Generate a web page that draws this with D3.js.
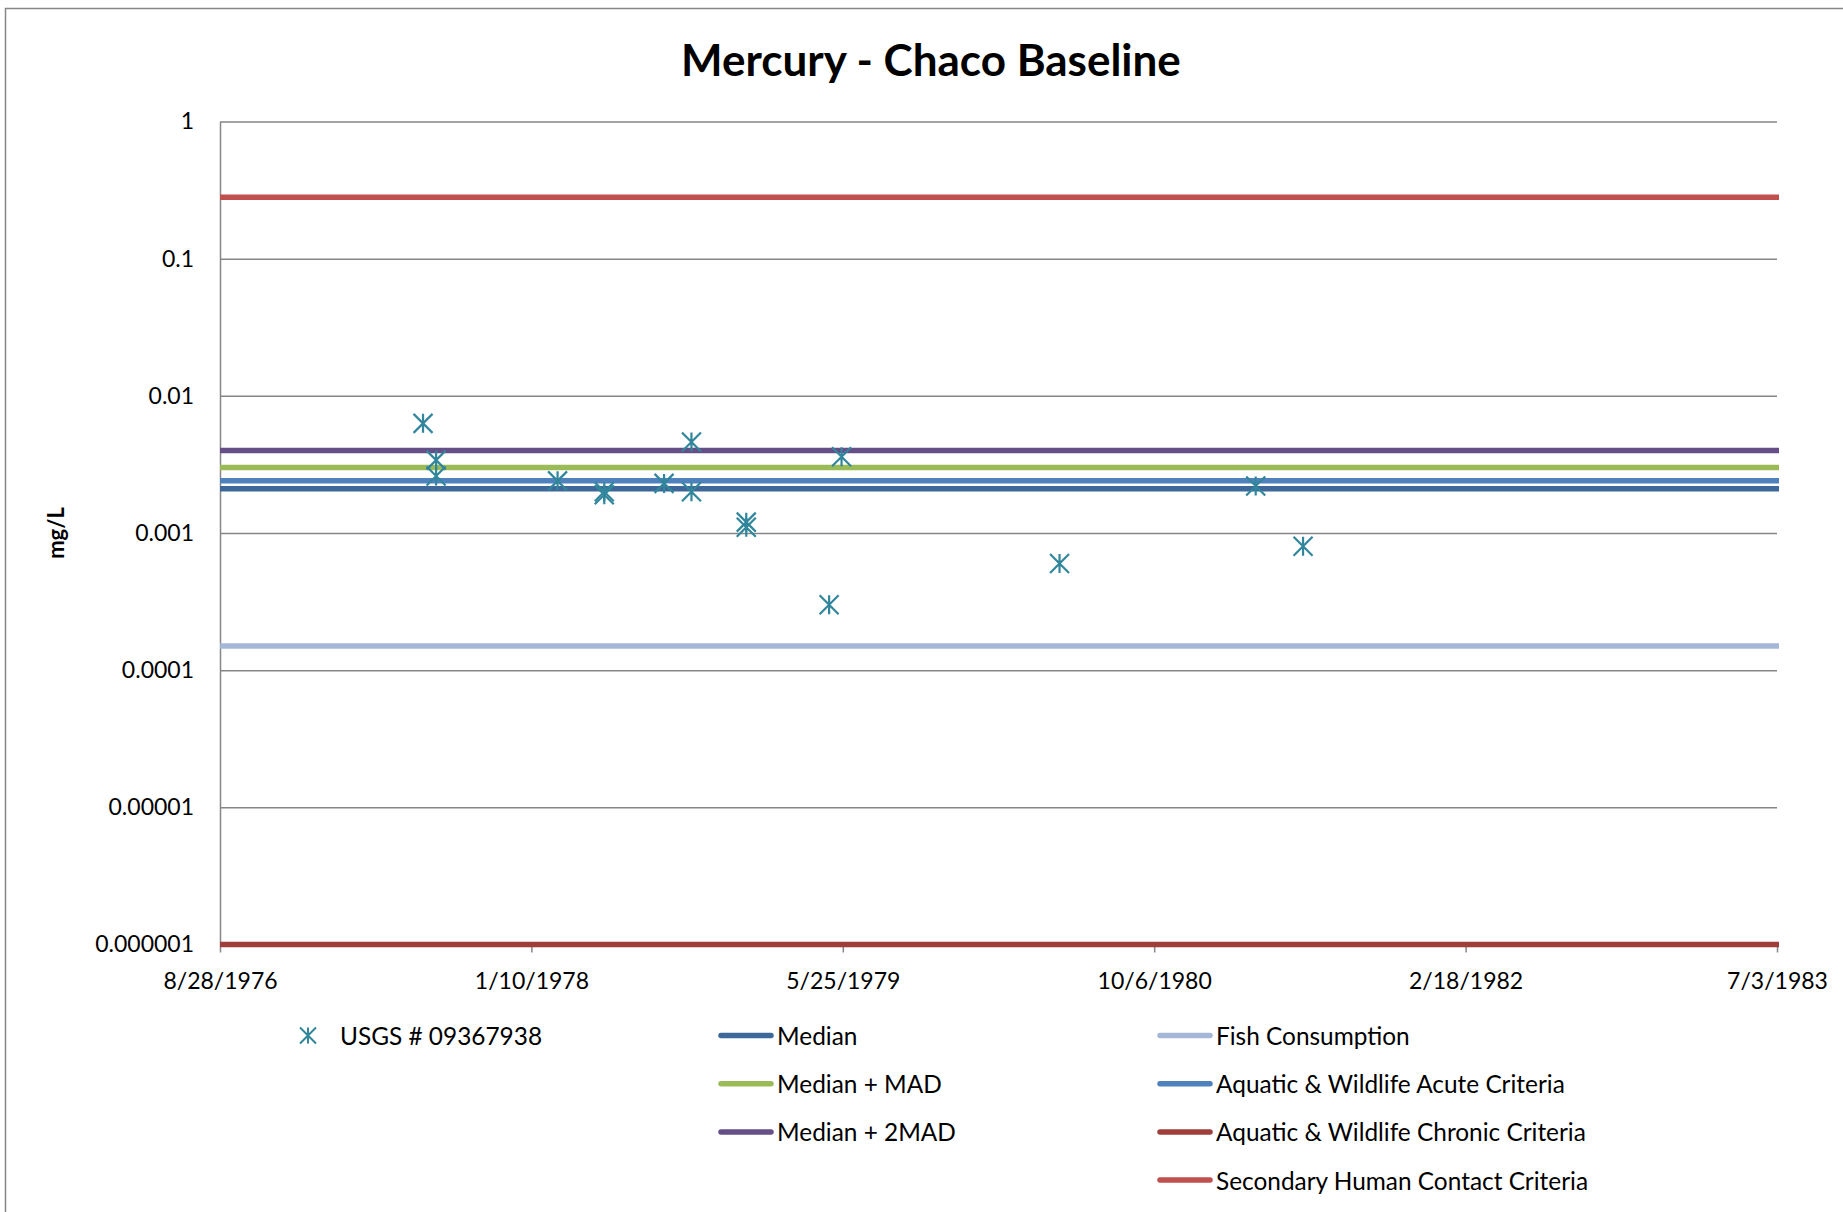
<!DOCTYPE html>
<html>
<head>
<meta charset="utf-8">
<script src="https://cdn.jsdelivr.net/npm/d3@7/dist/d3.min.js"></script>
<style>
  html, body { margin: 0; padding: 0; background: #fff; overflow: hidden; }
  svg { display: block; font-family: Lato, "Open Sans", sans-serif; }
</style>
</head>
<body>
<script>
// ─── DATA ────────────────────────────────────────────────────────────────
const seriesName = "USGS # 09367938";
const sampleDates  = ["7/20/1977", "8/10/1977", "8/10/1977", "2/21/1978", "5/7/1978", "5/7/1978",
                      "8/11/1978", "9/24/1978", "9/24/1978", "12/21/1978", "12/21/1978", "5/3/1979",
                      "5/23/1979", "5/7/1980", "3/18/1981", "6/2/1981"];
const sampleValues = [0.0063, 0.0034, 0.0026, 0.0024, 0.0020, 0.0019,
                      0.0023, 0.0046, 0.0020, 0.0012, 0.0011, 0.0003,
                      0.0036, 0.0006, 0.0022, 0.0008];

const refNames  = ["Median", "Median + MAD", "Median + 2MAD", "Fish Consumption",
                   "Aquatic & Wildlife Acute Criteria", "Aquatic & Wildlife Chronic Criteria",
                   "Secondary Human Contact Criteria"];
const refValues = [0.0021, 0.003, 0.004, 0.00015, 0.0024, 0.000001, 0.28];
const refColors = ["#3d6899", "#9bbb59", "#664f86", "#a5b7d7", "#4f81bd", "#9f3f3c", "#c0504d"];

const xTickLabels = ["8/28/1976", "1/10/1978", "5/25/1979", "10/6/1980", "2/18/1982", "7/3/1983"];
const yTickLabels = ["0.000001", "0.00001", "0.0001", "0.001", "0.01", "0.1", "1"];

// ─── LAYOUT ──────────────────────────────────────────────────────────────
const width = 1843, height = 1212;
const plot = { left: 220, right: 1777, top: 121.5, bottom: 944.5 };
const gridColor = "#868686";
const markColor = "#31869c";

const parse = d3.utcParse("%m/%d/%Y");
const xTicks = xTickLabels.map(parse);
const yTicks = yTickLabels.map(Number);

const x = d3.scaleUtc()
  .domain([xTicks[0], xTicks[xTicks.length - 1]])
  .range([plot.left, plot.right]);
const y = d3.scaleLog()
  .domain([yTicks[0], yTicks[yTicks.length - 1]])
  .range([plot.bottom, plot.top])
  .clamp(true);

const svg = d3.select("body").append("svg")
  .attr("width", width)
  .attr("height", height);

svg.append("rect")
  .attr("width", width).attr("height", height)
  .attr("fill", "#fff");

// outer chart frame (cut off at right / bottom in the original)
svg.append("rect")
  .attr("x", 5.5).attr("y", 8.5)
  .attr("width", 2400).attr("height", 2400)
  .attr("fill", "none")
  .attr("stroke", gridColor)
  .attr("stroke-width", 1.5);

// title
svg.append("text")
  .attr("x", 931).attr("y", 59)
  .attr("text-anchor", "middle")
  .attr("dominant-baseline", "central")
  .attr("font-weight", "bold")
  .attr("font-size", 44)
  .text("Mercury - Chaco Baseline");

// y gridlines
svg.append("g")
  .attr("transform", `translate(${plot.left},0)`)
  .call(d3.axisLeft(y).tickValues(yTicks).tickSize(-(plot.right - plot.left)).tickFormat(""))
  .call(g => g.select(".domain").remove())
  .call(g => g.selectAll("line").attr("stroke", gridColor).attr("stroke-width", 1.5));

// y axis
svg.append("g")
  .attr("transform", `translate(${plot.left},0)`)
  .call(d3.axisLeft(y).tickValues(yTicks).tickFormat((d, i) => yTickLabels[i]).tickSize(0).tickPadding(26))
  .call(g => g.select(".domain").attr("stroke", gridColor).attr("stroke-width", 1.5))
  .call(g => g.selectAll("text").attr("font-size", 23).attr("fill", "#000").attr("font-family", "Lato"));

// x axis
svg.append("g")
  .attr("transform", `translate(0,${plot.bottom})`)
  .call(d3.axisBottom(x).tickValues(xTicks).tickFormat((d, i) => xTickLabels[i]).tickSize(8).tickSizeOuter(0).tickPadding(20))
  .call(g => g.select(".domain").attr("stroke", gridColor).attr("stroke-width", 1.5))
  .call(g => g.selectAll("line").attr("stroke", gridColor).attr("stroke-width", 1.5))
  .call(g => g.selectAll("text").attr("font-size", 23).attr("fill", "#000").attr("font-family", "Lato"));

// y axis title
svg.append("text")
  .attr("transform", `translate(55,${(plot.top + plot.bottom) / 2}) rotate(-90)`)
  .attr("text-anchor", "middle")
  .attr("dominant-baseline", "central")
  .attr("font-weight", "bold")
  .attr("font-size", 22)
  .text("mg/L");

// reference lines
svg.append("g")
  .selectAll("line")
  .data(refValues)
  .join("line")
    .attr("x1", x.range()[0])
    .attr("x2", x.range()[1] + 2)
    .attr("y1", d => y(d))
    .attr("y2", d => y(d))
    .attr("stroke", (d, i) => refColors[i])
    .attr("stroke-width", 5.5);

// sample points (star markers)
const star = r => `M${-r},${-r}L${r},${r}M${r},${-r}L${-r},${r}M0,${-r}L0,${r}`;
svg.append("g")
  .selectAll("path")
  .data(sampleDates.map((d, i) => [parse(d), sampleValues[i]]))
  .join("path")
    .attr("transform", d => `translate(${x(d[0])},${y(d[1])})`)
    .attr("d", star(9.5))
    .attr("fill", "none")
    .attr("stroke", markColor)
    .attr("stroke-width", 2.2);

// ─── LEGEND ──────────────────────────────────────────────────────────────
const rowY = [1035.5, 1083.7, 1131.9, 1180.1];
const legend = svg.append("g")
  .attr("font-size", 24.4);

legend.append("path")
  .attr("transform", `translate(308,${rowY[0]})`)
  .attr("d", star(8))
  .attr("fill", "none")
  .attr("stroke", markColor)
  .attr("stroke-width", 2);
legend.append("text")
  .attr("x", 340).attr("y", rowY[0])
  .attr("dominant-baseline", "central")
  .text(seriesName);

const legendItems = refNames.map((name, i) => ({
  name,
  color: refColors[i],
  x0: i < 3 ? 721 : 1160,
  row: i < 3 ? i : i - 3
}));

const li = legend.selectAll("g.item")
  .data(legendItems)
  .join("g")
    .attr("class", "item")
    .attr("transform", d => `translate(${d.x0},${rowY[d.row]})`);
li.append("line")
  .attr("x1", 0).attr("x2", 50)
  .attr("stroke", d => d.color)
  .attr("stroke-width", 5.5)
  .attr("stroke-linecap", "round");
li.append("text")
  .attr("x", 56)
  .attr("dominant-baseline", "central")
  .text(d => d.name);
</script>
</body>
</html>
